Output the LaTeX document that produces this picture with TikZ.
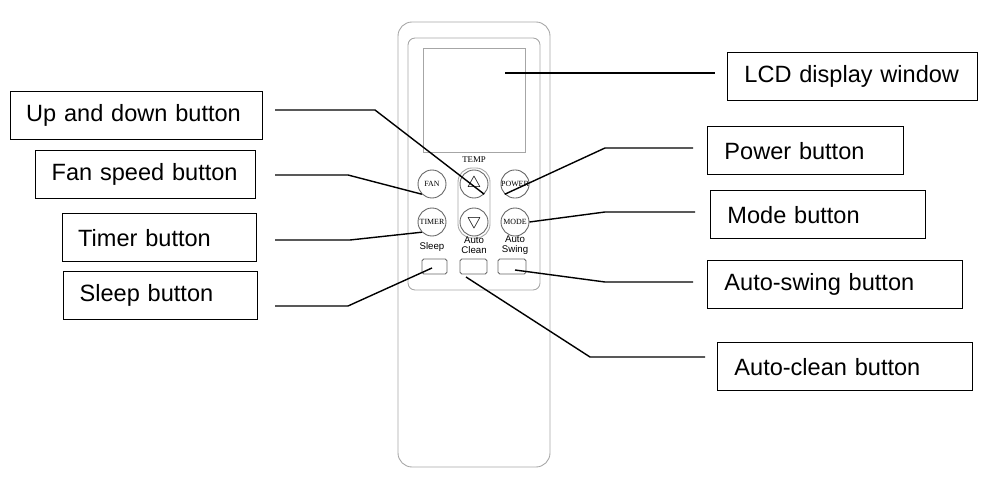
\documentclass[tikz,border=0pt]{standalone}
\usepackage{fontspec}
\setmainfont{Liberation Sans}
\newfontfamily\keyfont{Liberation Serif}
\usetikzlibrary{calc}
\tikzset{
    labelbox/.style={draw=black,thick,minimum height=0.96cm,anchor=north west,inner sep=0pt,
        align=left,font=\fontsize{13.4}{15}\selectfont},
    pointer/.style={black,thick},
    remote/.style={draw=black!35,line width=0.5pt},
    key/.style={remote,draw=black!60,circle,minimum size=0.56cm,inner sep=0pt,font=\keyfont\fontsize{4.5}{5}\selectfont},
    flatkey/.style={remote,draw=black!60,rounded corners=1pt},
    tiny/.style={font=\fontsize{5.5}{6}\selectfont,align=center,inner sep=0pt}
}
\begin{document}
\begin{tikzpicture}[x=0.02cm,y=-0.02cm]
\useasboundingbox (0,0) rectangle (997,489);
% remote body
\draw[remote,rounded corners=8pt] (398,22) rectangle (550,467);
\draw[remote,rounded corners=4pt] (408,38) rectangle (540,290);
\draw[remote] (423,48) rectangle (525,152);
\node[tiny] (temp) at (474,160) {\keyfont\fontsize{5}{5}\selectfont TEMP};
\draw[remote,rounded corners=8pt] (458,168) rectangle (490,238);
\node[key] (fan) at (432,184) {FAN};
\node[key] (up) at (474,184) {\fontsize{9}{9}\selectfont$\bigtriangleup$};
\node[key] (power) at (515,184) {POWER};
\node[key] (timer) at (432,222) {TIMER};
\node[key] (down) at (474,222) {\fontsize{9}{9}\selectfont$\bigtriangledown$};
\node[key] (mode) at (515,222) {MODE};
\node[tiny] (sleep) at (432,247) {Sleep};
\node[tiny] (clean) at (474,245) {Auto\\Clean};
\node[tiny] (swing) at (515,245) {Auto\\Swing};
\draw[flatkey] (422,259) rectangle (447,274);
\draw[flatkey] (460,259) rectangle (487,274);
\draw[flatkey] (498,259) rectangle (526,274);
% label boxes
\node[labelbox,minimum width=5cm,text width=4.33cm] (lcd) at (727,52) {LCD display window};
\node[labelbox,minimum width=5.04cm,text width=4.42cm] (updown) at (10,91) {Up and down button};
\node[labelbox,minimum width=4.4cm,text width=3.76cm] (fanbox) at (35,150) {Fan speed button};
\node[labelbox,minimum width=3.88cm,text width=3.26cm] (timerbox) at (62,213) {Timer button};
\node[labelbox,minimum width=3.88cm,text width=3.24cm] (sleepbox) at (63,271) {Sleep button};
\node[labelbox,minimum width=3.92cm,text width=3.25cm] (powerbox) at (707,126) {Power button};
\node[labelbox,minimum width=4.3cm,text width=3.63cm] (modebox) at (710,190) {Mode button};
\node[labelbox,minimum width=5.1cm,text width=4.43cm] (swingbox) at (707,260) {Auto-swing button};
\node[labelbox,minimum width=5.1cm,text width=4.43cm] (cleanbox) at (717,342) {Auto-clean button};
% pointers
\coordinate (p1) at (505,73);
\draw[pointer] (p1) -- (715,73);
\draw[pointer] (275,110) -- (375,110) -- (up.south east);
\draw[pointer] (275,175) -- (348,175) -- (fan.south west);
\draw[pointer] (275,240) -- (350,240) -- (timer.south west);
\draw[pointer] (275,306) -- (348,306) -- (432,268);
\draw[pointer] (693,148) -- (605,148) -- (power.south west);
\draw[pointer] (695,212) -- (605,212) -- (mode.east);
\draw[pointer] (693,282) -- (605,282) -- (515,270);
\draw[pointer] (705,357) -- (590,357) -- (466,277);
\end{tikzpicture}
\end{document}
